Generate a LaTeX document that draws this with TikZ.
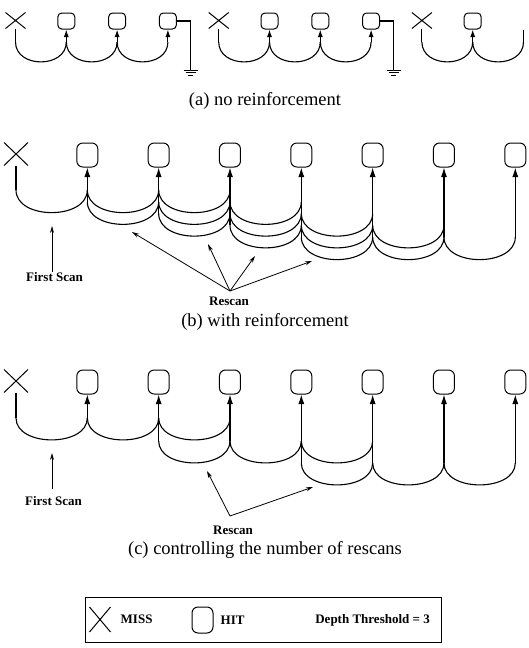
\documentclass[tikz,border=0pt]{standalone}
\usepackage{fontspec}
\setmainfont{Liberation Serif}
\usetikzlibrary{arrows.meta, positioning, shapes.misc}
\tikzset{
    >={Latex[length=9.5pt,width=6pt]}, % arrow heads on the hit lines
    scan/.style={
            draw,
            line width=1.1pt, % the scan curves
        },
    miss/.style={
            cross out,
            draw,
            line width=1pt,
            inner sep=0pt, % the cross fills the whole node
            minimum width=23pt,
            minimum height=22pt,
        },
    hit/.style={
            draw,
            rectangle,
            rounded corners=6pt,
            line width=1pt,
            inner sep=0pt,
            minimum width=21pt,
            minimum height=24pt,
        },
    small/.style={minimum width=17pt, minimum height=16pt, rounded corners=4pt}, % panel (a)
    smallmiss/.style={minimum width=19pt, minimum height=15pt},
    hitline/.style={->, line width=1.1pt},
    smallhit/.style={-{Latex[length=7.5pt,width=5pt]}, line width=1.1pt},
    pointer/.style={-{Stealth[length=7pt,width=4pt]}, line width=0.8pt},
    lbl/.style={font=\fontsize{13}{15}\selectfont\bfseries, inner sep=1pt},
    caption/.style={font=\fontsize{18.5}{20}\selectfont},
}

\begin{document}
\begin{tikzpicture}[x=1pt, y=1pt]
                \useasboundingbox (0,0) rectangle (529,-648);

                % (a) no reinforcement
                \node[miss, smallmiss] (a0) at (15.5,-20.5) {};
                \node[hit, small] (a1) at (66.3,-21) {};
                \node[hit, small] (a2) at (117.1,-21) {};
                \node[hit, small] (a3) at (167.9,-21) {};
                \node[miss, smallmiss] (a4) at (218.7,-20.5) {};
                \node[hit, small] (a5) at (269.5,-21) {};
                \node[hit, small] (a6) at (320.3,-21) {};
                \node[hit, small] (a7) at (371.1,-21) {};
                \node[miss, smallmiss] (a8) at (421.9,-20.5) {};
                \node[hit, small] (a9) at (472.7,-21) {};
                \coordinate (a10) at (523.5,-30);
                \coordinate (al) at (0,-42);
                \coordinate (g1) at (190.7,-70);
                \coordinate (g2) at (393.9,-70);

                \foreach \s/\t in {0/1,1/2,2/3,4/5,5/6,6/7,8/9,9/10}
                    \draw[scan] (a\s |- al) to[out=-90, in=-90, looseness=1.34] (a\t |- al);
                \foreach \m in {0,4,8}
                    \draw[scan] (a\m.south) -- (a\m |- al);
                \foreach \h in {1,2,3,5,6,7,9}
                    \draw[smallhit] (a\h |- al) -- (a\h.south);
                \draw[scan] (a10 |- al) -- (a10);

                % ground after the third hit
                \draw[scan] (a3.east) -| (g1);
                \draw[scan] (a7.east) -| (g2);
                \foreach \g in {g1,g2} {
                    \draw[line width=1pt] (\g) ++(-7,0) -- ++(14,0);
                    \draw[line width=1pt] (\g) ++(-5,-2.7) -- ++(10,0);
                    \draw[line width=1pt] (\g) ++(-2.5,-5.3) -- ++(5,0);
                }
                \node[caption] (capa) at (265,-101) {(a) no reinforcement};

                % (b) with reinforcement
                \node[miss] (b0) at (16,-154) {};
                \foreach \i in {1,...,7}
                    \node[hit] (b\i) at (16+71.33*\i,-155) {};
                \foreach \c/\y in {0/190,1/201.75,2/213.5,3/225.25,4/237}
                    \coordinate (bl\c) at (0,-\y);

                \draw[scan] (b0.south) -- (b0 |- bl0);
                \foreach \c in {0,...,4} {
                    \foreach \i in {0,1,2} {
                        \pgfmathtruncatemacro\s{\c+\i}
                        \pgfmathtruncatemacro\t{\s+1}
                        \draw[scan] (b\s |- bl\c) to[out=-90, in=-90, looseness=1.084] (b\t |- bl\c);
                    }
                }
                \foreach \i/\k in {1/1,2/2,3/3,4/4,5/4,6/4,7/4}
                    \draw[hitline] (b\i |- bl\k) -- (b\i.south);

                \node[lbl] (fsb) at (54.5,-277.5) {First Scan};
                \coordinate (fsbt) at (52,-226);
                \draw[pointer] (fsbt |- fsb.north) -- (fsbt);

                \node[lbl] (rsb) at (229,-301) {Rescan};
                \coordinate (rsbf) at (230,-291);
                \coordinate (rb1) at (132,-232);
                \coordinate (rb2) at (208,-244);
                \coordinate (rb3) at (255,-256);
                \coordinate (rb4) at (312,-261);
                \foreach \r in {1,...,4}
                    \draw[pointer] (rsbf) -- (rb\r);
                \node[caption] (capb) at (265,-322) {(b) with reinforcement};

                % (c) controlling the number of rescans
                \node[miss] (c0) at (16,-381) {};
                \foreach \i in {1,...,7}
                    \node[hit] (c\i) at (16+71.33*\i,-382) {};
                \foreach \c/\y in {0/418,1/441,2/463}
                    \coordinate (cl\c) at (0,-\y);

                \draw[scan] (c0.south) -- (c0 |- cl0);
                \foreach \c/\f in {0/0,1/2,2/4} {
                    \foreach \i in {0,1,2} {
                        \pgfmathtruncatemacro\s{\f+\i}
                        \pgfmathtruncatemacro\t{\s+1}
                        \draw[scan] (c\s |- cl\c) to[out=-90, in=-90, looseness=1.05] (c\t |- cl\c);
                    }
                }
                \foreach \i/\k in {1/0,2/1,3/1,4/2,5/2,6/2,7/2}
                    \draw[hitline] (c\i |- cl\k) -- (c\i.south);

                \node[lbl] (fsc) at (53.5,-501) {First Scan};
                \coordinate (fsct) at (52,-453);
                \draw[pointer, shorten <=6pt] (fsct |- fsc.north) -- (fsct);

                \node[lbl] (rsc) at (233,-530) {Rescan};
                \coordinate (rscf) at (230,-516);
                \coordinate (rc1) at (207,-471);
                \coordinate (rc2) at (313,-487);
                \foreach \r in {1,2}
                    \draw[pointer] (rscf) -- (rc\r);
                \node[caption] (capc) at (265,-550) {(c) controlling the number of rescans};

                % legend
                \node[draw, line width=0.8pt, minimum width=356pt, minimum height=45pt] (legend) at (263,-619.5) {};
                \node[miss, minimum width=20pt, minimum height=24pt] (lmiss) at (100,-619.5) {};
                \node[lbl, right=9pt of lmiss] (lmisst) {MISS};
                \node[hit, minimum width=21pt, minimum height=26pt] (lhit) at (202.5,-620) {};
                \node[lbl, right=6pt of lhit] (lhitt) {HIT};
                \node[lbl, anchor=east] (ldepth) at (431,-620) {Depth Threshold = 3};

        \end{tikzpicture}
\end{document}
